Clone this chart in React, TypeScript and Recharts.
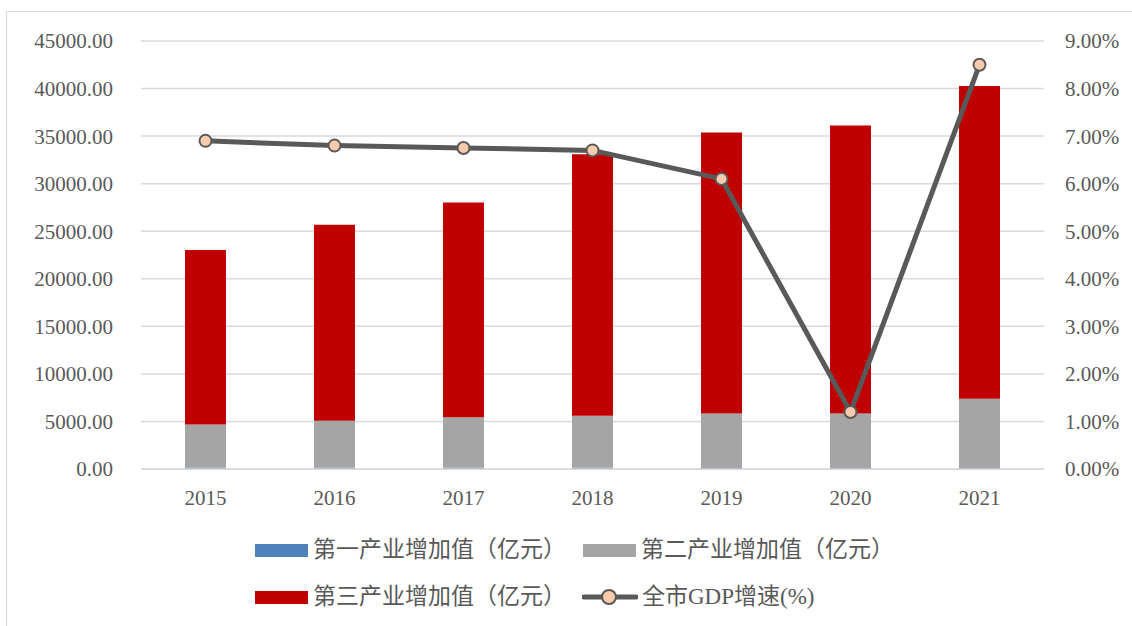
import React from 'react';
import { ComposedChart, Bar, Line, XAxis, YAxis, CartesianGrid, Legend } from 'recharts';

const years = ['2015', '2016', '2017', '2018', '2019', '2020', '2021'];
const primary = [140.4, 129.8, 120.4, 118.7, 113.7, 107.6, 111.3];
const secondary = [4542.6, 4944.4, 5326.8, 5477.3, 5715.1, 5716.4, 7268.6];
const tertiary = [18331.7, 20594.9, 22567.8, 27508.1, 29542.5, 30278.6, 32889.6];
const growth = [6.9, 6.8, 6.75, 6.7, 6.1, 1.2, 8.5];
const leftTicks = [0, 5000, 10000, 15000, 20000, 25000, 30000, 35000, 40000, 45000];
const rightTicks = [0, 1, 2, 3, 4, 5, 6, 7, 8, 9];

const names = {
  p: '第一产业增加值（亿元）',
  s: '第二产业增加值（亿元）',
  t: '第三产业增加值（亿元）',
  g: '全市GDP增速(%)',
};

const data = years.map((y, i) => ({
  year: y,
  p: primary[i],
  s: secondary[i],
  t: tertiary[i],
  g: growth[i],
}));

const FONT = '"Liberation Serif", "Times New Roman", "Noto Sans CJK SC", serif';
const TEXT = '#595959';

const Swatch = ({ color }: { color: string }) => (
  <span style={{ display: 'inline-block', width: 53, height: 13, background: color, marginRight: 5 }} />
);

const LineSym = () => (
  <svg width={56} height={18} style={{ marginRight: 4 }}>
    <line x1={2} y1={9} x2={54} y2={9} stroke="#595959" strokeWidth={5} strokeLinecap="round" />
    <circle cx={27} cy={9} r={7} fill="#F8CBAD" stroke="#595959" strokeWidth={2} />
  </svg>
);

const CustomLegend = () => {
  const item = (sym: React.ReactNode, label: string, left: number, top: number) => (
    <div style={{ position: 'absolute', left, top, display: 'flex', alignItems: 'center', whiteSpace: 'nowrap', height: 24 }}>
      {sym}
      <span style={{ fontFamily: FONT, fontSize: 23, color: TEXT, lineHeight: '24px' }}>{label}</span>
    </div>
  );
  return (
    <div style={{ position: 'relative', width: 1132, height: 90 }}>
      {item(<Swatch color="#4F81BD" />, names.p, 255, 0)}
      {item(<Swatch color="#A5A5A5" />, names.s, 583, 0)}
      {item(<Swatch color="#C00000" />, names.t, 255, 47)}
      {item(<LineSym />, names.g, 582, 47)}
    </div>
  );
};

export default function App() {
  return (
    <div style={{ position: 'absolute', left: 0, top: 0, width: 1132, height: 626, overflow: 'hidden', background: '#fff' }}>
      <div style={{ position: 'absolute', left: 6, top: 11, width: 1200, height: 700, border: '1.5px solid #D9D9D9', boxSizing: 'border-box' }} />
      <ComposedChart
        width={1132}
        height={626}
        data={data}
        margin={{ top: 41, right: 0, bottom: 37, left: 0 }}
        style={{ position: 'absolute', left: 0, top: 0 }}
      >
        <CartesianGrid vertical={false} stroke="#D9D9D9" strokeWidth={1.5} yAxisId="left" />
        <XAxis
          dataKey="year"
          axisLine={{ stroke: '#D9D9D9', strokeWidth: 1.5 }}
          tickLine={false}
          tickSize={0}
          tickMargin={21}
          height={30}
          tick={{ fill: TEXT, fontSize: 21, fontFamily: FONT }}
        />
        <YAxis
          yAxisId="left"
          width={141}
          domain={[0, 45000]}
          ticks={leftTicks}
          axisLine={false}
          tickLine={false}
          tickSize={0}
          tickMargin={28}
          tickFormatter={(v: number) => v.toFixed(2)}
          tick={{ fill: TEXT, fontSize: 21, fontFamily: FONT }}
          interval={0}
        />
        <YAxis
          yAxisId="right"
          orientation="right"
          width={88}
          domain={[0, 9]}
          ticks={rightTicks}
          axisLine={false}
          tickLine={false}
          tickSize={0}
          tickMargin={21}
          tickFormatter={(v: number) => v.toFixed(2) + '%'}
          tick={{ fill: TEXT, fontSize: 21, fontFamily: FONT, textAnchor: 'start' }}
          interval={0}
        />
        <Legend
          content={<CustomLegend />}
          wrapperStyle={{ position: 'absolute', left: 0, top: 538, width: 1132, height: 90 }}
        />
        <Bar yAxisId="left" dataKey="p" name={names.p} stackId="a" fill="#4F81BD" barSize={41} isAnimationActive={false} />
        <Bar yAxisId="left" dataKey="s" name={names.s} stackId="a" fill="#A5A5A5" barSize={41} isAnimationActive={false} />
        <Bar yAxisId="left" dataKey="t" name={names.t} stackId="a" fill="#C00000" barSize={41} isAnimationActive={false} />
        <Line
          yAxisId="right"
          dataKey="g"
          name={names.g}
          stroke="#595959"
          strokeWidth={5}
          dot={{ r: 6, fill: '#F8CBAD', stroke: '#595959', strokeWidth: 2 }}
          activeDot={false}
          isAnimationActive={false}
        />
      </ComposedChart>
    </div>
  );
}
